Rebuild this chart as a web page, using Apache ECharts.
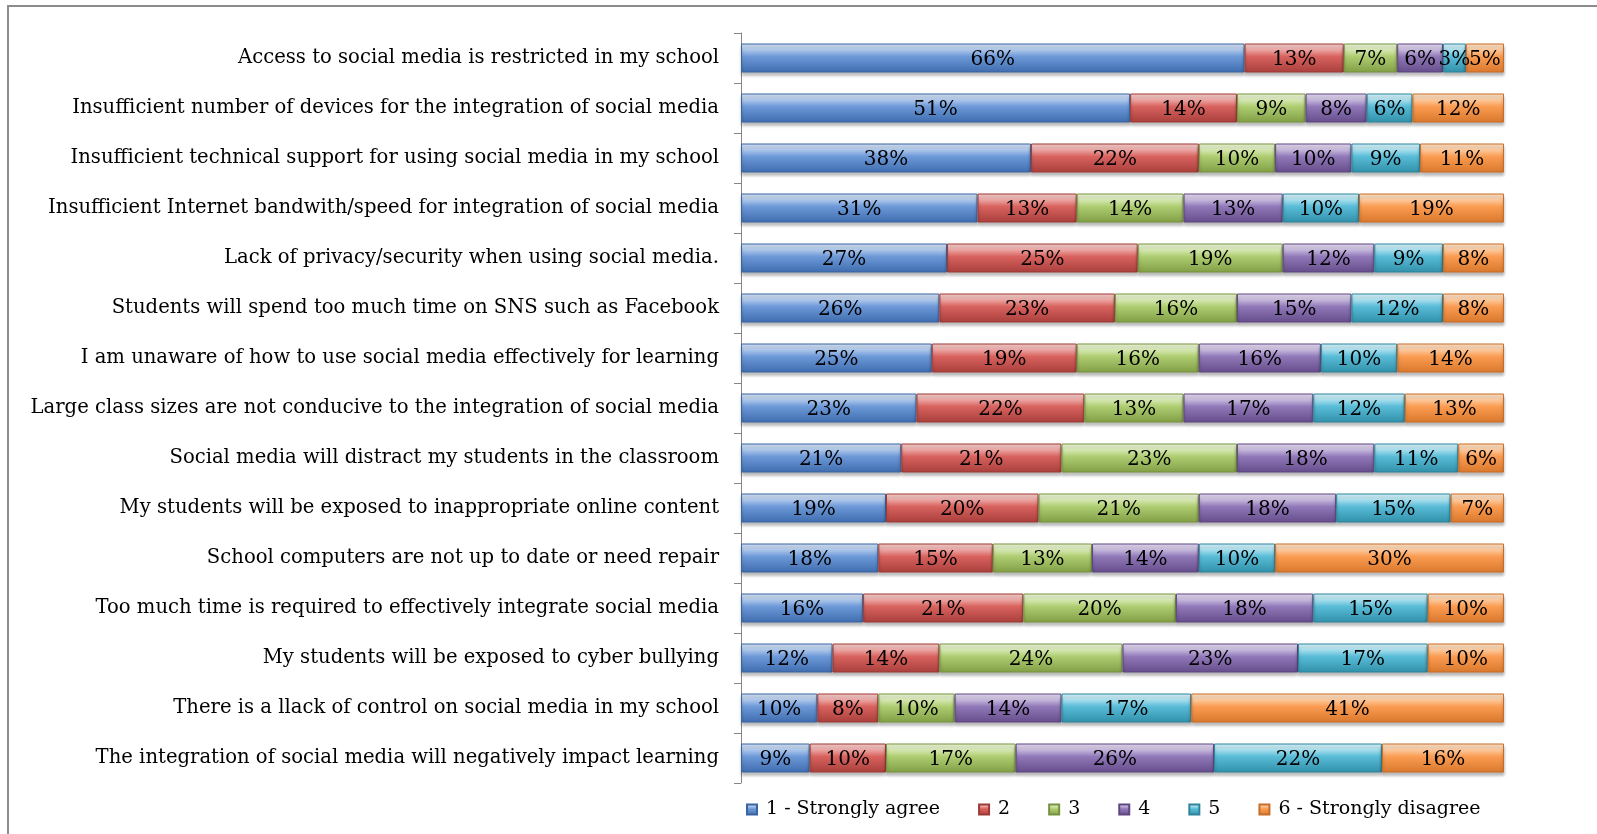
<!DOCTYPE html>
<html>
<head>
<meta charset="utf-8">
<script src="https://cdn.jsdelivr.net/npm/echarts@6/dist/echarts.min.js"></script>
<style>
html,body{margin:0;padding:0;background:#fff;}
#chart{width:1597px;height:834px;}
</style>
</head>
<body>
<div id="chart"></div>
<script>
var categories = [
  "Access to social media is restricted in my school",
  "Insufficient number of devices for the integration of social media",
  "Insufficient technical support for using social media in my school",
  "Insufficient Internet bandwith/speed for integration of social media",
  "Lack of privacy/security when using social media.",
  "Students will spend too much time on SNS such as Facebook",
  "I am unaware of how to use social media effectively for learning",
  "Large class sizes are not conducive to the integration of social media",
  "Social media will distract my students in the classroom",
  "My students will be exposed to inappropriate online content",
  "School computers are not up to date or need repair",
  "Too much time is required to effectively integrate social media",
  "My students will be exposed to cyber bullying",
  "There is a llack of control on social media in my school",
  "The integration of social media will negatively impact learning"
];
var seriesNames = ["1 - Strongly agree", "2", "3", "4", "5", "6 - Strongly disagree"];
var s1 = [66, 51, 38, 31, 27, 26, 25, 23, 21, 19, 18, 16, 12, 10, 9];
var s2 = [13, 14, 22, 13, 25, 23, 19, 22, 21, 20, 15, 21, 14, 8, 10];
var s3 = [7, 9, 10, 14, 19, 16, 16, 13, 23, 21, 13, 20, 24, 10, 17];
var s4 = [6, 8, 10, 13, 12, 15, 16, 17, 18, 18, 14, 18, 23, 14, 26];
var s5 = [3, 6, 9, 10, 9, 12, 10, 12, 11, 15, 10, 15, 17, 17, 22];
var s6 = [5, 12, 11, 19, 8, 8, 14, 13, 6, 7, 30, 10, 10, 41, 16];
var seriesValues = [s1, s2, s3, s4, s5, s6];

var palettes = [
  ["#c9dbf3", "#6d99d8", "#3e6cae", "#3a64a0"],
  ["#f5c3c1", "#d8625e", "#a93f3c", "#9c3a37"],
  ["#e6f3cd", "#aecd71", "#819e45", "#77923f"],
  ["#dcd2ec", "#9179b9", "#654c8a", "#5e4781"],
  ["#c9eef8", "#59bcd7", "#3190aa", "#2d849c"],
  ["#fedcbc", "#fa9c52", "#d9782c", "#c76d27"]
];
var FONT = "DejaVu Serif";

function grad(p) {
  return new echarts.graphic.LinearGradient(0, 0, 0, 1, [
    {offset: 0, color: p[0]},
    {offset: 0.12, color: p[0]},
    {offset: 0.45, color: p[1]},
    {offset: 1, color: p[2]}
  ]);
}

var series = seriesValues.map(function (vals, i) {
  return {
    name: seriesNames[i],
    type: "bar",
    stack: "total",
    barWidth: 29,
    data: vals,
    itemStyle: {
      color: grad(palettes[i]),
      borderColor: palettes[i][3],
      borderWidth: 1,
      shadowColor: "rgba(0,0,0,0.28)",
      shadowBlur: 3,
      shadowOffsetY: 3
    },
    label: {
      show: true,
      position: "inside",
      offset: [0, 2],
      formatter: "{c}%",
      fontFamily: FONT,
      fontSize: 20,
      color: "#000"
    }
  };
});

var chart = echarts.init(document.getElementById("chart"), null, {renderer: "canvas"});
chart.setOption({
  animation: false,
  backgroundColor: "#fff",
  color: palettes.map(function (p) { return p[1]; }),
  graphic: [{
    type: "polyline",
    shape: {points: [[8, 834], [8, 6], [1597, 6]]},
    style: {stroke: "#8c8c8c", lineWidth: 2, fill: null},
    silent: true
  }],
  grid: {left: 741, right: 93, top: 33, bottom: 51, containLabel: false},
  xAxis: {type: "value", min: 0, max: 100, show: false},
  yAxis: {
    type: "category",
    inverse: true,
    data: categories,
    axisLine: {show: true, lineStyle: {color: "#868686", width: 1}},
    axisTick: {show: true, length: 7, lineStyle: {color: "#868686"}},
    axisLabel: {margin: 22, fontFamily: FONT, fontSize: 19.6, color: "#000", padding: [4, 0, 0, 0]}
  },
  legend: {
    left: 741,
    top: 795,
    itemWidth: 10,
    itemHeight: 10,
    itemGap: 38,
    icon: "rect",
    textStyle: {fontFamily: FONT, fontSize: 19, color: "#000", padding: [0, 0, 0, 4]},
    data: seriesNames
  },
  series: series
});
</script>
</body>
</html>
